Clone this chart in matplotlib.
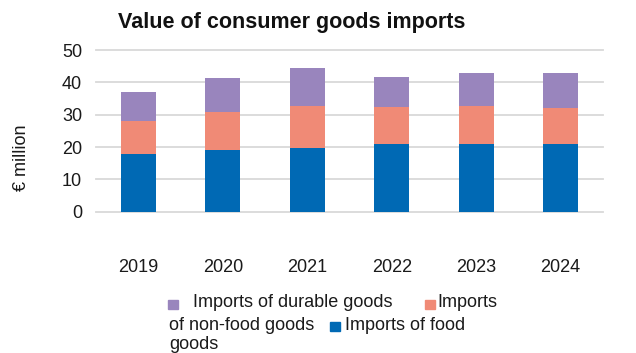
import matplotlib
matplotlib.use("Agg")
from matplotlib import pyplot as plt
from matplotlib.patches import Rectangle
import numpy as np

plt.rcParams['font.family'] = ['Liberation Sans', 'DejaVu Sans']

years = ['2019', '2020', '2021', '2022', '2023', '2024']
food_goods = [17.8, 19.0, 19.7, 20.9, 20.9, 20.9]
non_food_goods = [10.2, 11.8, 12.9, 11.4, 11.7, 11.1]
durable_goods = [8.9, 10.5, 11.8, 9.3, 10.2, 10.8]

c_food = '#0069B4'
c_nonfood = '#F08A76'
c_durable = '#9985BD'
c_grid = '#D9D9D9'

fig = plt.figure(figsize=(6.36, 3.53), dpi=100)
ax = fig.add_axes([0.151, 0.40, 0.797, 0.458])

x = np.arange(len(years))
w = 0.41
food = np.array(food_goods)
nonfood = np.array(non_food_goods)
ax.bar(x, food, w, color=c_food, zorder=3)
ax.bar(x, nonfood, w, bottom=food, color=c_nonfood, zorder=3)
ax.bar(x, durable_goods, w, bottom=food + nonfood, color=c_durable, zorder=3)

ax.set_xlim(-0.5, len(years) - 0.5)
ax.set_ylim(0, 50)
ax.set_yticks(range(0, 51, 10))
ax.set_xticks(x)
ax.set_xticklabels(years)
for v in range(0, 51, 10):
    ax.axhline(v, color=c_grid, lw=1.3, zorder=1, clip_on=False)
for s in ax.spines.values():
    s.set_visible(False)
ax.tick_params(axis='both', length=0, labelsize=13, colors='#1a1a1a')
ax.tick_params(axis='x', pad=34)
ax.tick_params(axis='y', pad=10)

fig.text(21 / 636, 1 - 158 / 353, '€ million', rotation=90, fontsize=13,
         ha='center', va='center', color='#1a1a1a')
fig.text(118 / 636, 1 - 28 / 353, 'Value of consumer goods imports',
         fontsize=15.5, fontweight='bold', ha='left', va='baseline', color='#111111')

# legend laid out as wrapped flowing text
def sq(px, py, color):
    fig.patches.append(Rectangle((px / 636, 1 - (py + 9) / 353), 10 / 636, 9 / 353,
                                 transform=fig.transFigure, color=color, figure=fig))

def txt(px, py, s):
    fig.text(px / 636, 1 - py / 353, s, fontsize=13, ha='left', va='baseline',
             color='#1a1a1a')

sq(168, 300, c_durable)
txt(193, 307, 'Imports of durable goods')
sq(425, 300, c_nonfood)
txt(437, 307, 'Imports')
txt(169, 330, 'of non-food goods')
sq(330, 322, c_food)
txt(345, 330, 'Imports of food')
txt(169, 349, 'goods')

plt.savefig('out.png', dpi=100)
